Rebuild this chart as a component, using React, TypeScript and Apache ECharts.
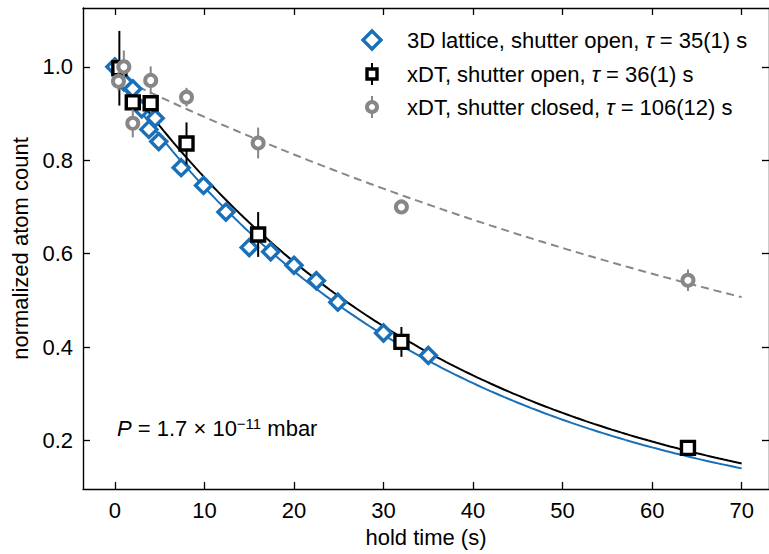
import React, { useEffect, useRef } from "react";
import * as echarts from "echarts";

// ---- data ----
const xTicks = [0, 10, 20, 30, 40, 50, 60, 70];
const yTicks = [0.2, 0.4, 0.6, 0.8, 1.0];

const latticeTime = [0, 1, 2, 3, 3.8, 4.5, 4.9, 7.4, 9.9, 12.4, 15, 17.4, 20, 22.5, 24.9, 30, 35];
const latticeCount = [1.0, 0.968, 0.953, 0.91, 0.866, 0.89, 0.84, 0.784, 0.746, 0.689, 0.613, 0.604, 0.575, 0.542, 0.496, 0.43, 0.382];

const xdtOpenTime = [0.5, 2, 4, 8, 16, 32, 64];
const xdtOpenCount = [0.997, 0.924, 0.922, 0.836, 0.641, 0.411, 0.184];
const xdtOpenErr = [0.08, 0.015, 0.015, 0.045, 0.048, 0.032, 0.01];

const xdtClosedTime = [0.4, 1, 2, 4, 8, 16, 32, 64];
const xdtClosedCount = [0.969, 1.0, 0.879, 0.971, 0.935, 0.837, 0.7, 0.543];
const xdtClosedErr = [0.02, 0.035, 0.03, 0.03, 0.02, 0.033, 0.012, 0.023];

// exponential fit parameters (amplitude, lifetime) for lattice, xDT open, xDT closed
const fitAmplitude = [0.98, 1.0, 0.981];
const fitTau = [36, 37, 106];
const fitEnd = 70;

const BLUE = "#1a70b8";
const GRAY = "#878787";
const FONT = "Liberation Sans";
const FS = 22;

function fitCurve(k: number): number[][] {
  const pts: number[][] = [];
  for (let t = 0; t <= fitEnd + 1e-9; t += 0.5) {
    pts.push([t, fitAmplitude[k] * Math.exp(-t / fitTau[k])]);
  }
  return pts;
}

function errorSeries(times: number[], counts: number[], errs: number[], color: string, z: number) {
  return {
    type: "custom",
    z,
    silent: true,
    data: times.map((t, i) => [t, counts[i] - errs[i], counts[i] + errs[i]]),
    encode: { x: 0, y: [1, 2] },
    renderItem: (_p: any, api: any) => {
      const lo = api.coord([api.value(0), api.value(1)]);
      const hi = api.coord([api.value(0), api.value(2)]);
      return {
        type: "line",
        shape: { x1: lo[0], y1: lo[1], x2: hi[0], y2: hi[1] },
        style: { stroke: color, lineWidth: 2 },
      };
    },
  };
}

export default function App() {
  const ref = useRef<HTMLDivElement>(null);
  useEffect(() => {
    if (!ref.current) return;
    const chart = echarts.init(ref.current, null, { renderer: "svg" });
    const axisCommon = {
      type: "value",
      splitLine: { show: false },
      axisLine: { show: true, onZero: false, lineStyle: { color: "#000", width: 1.4 } },
      axisTick: { show: true, inside: true, length: 7, lineStyle: { color: "#000", width: 1.3 } },
    };
    const textBase = { fontFamily: FONT, fontSize: FS, color: "#000" };
    const option: any = {
      animation: false,
      backgroundColor: "#fff",
      grid: { left: 83, right: -2, top: 8, bottom: 65 },
      xAxis: [
        {
          ...axisCommon,
          position: "bottom",
          min: -3.56,
          max: 73.05,
          axisTick: { ...axisCommon.axisTick, customValues: xTicks },
          axisLabel: { ...textBase, margin: 10, customValues: xTicks, formatter: (v: number) => String(v) },
          name: "hold time (s)",
          nameLocation: "middle",
          nameGap: 37,
          nameTextStyle: { ...textBase },
        },
        {
          ...axisCommon,
          position: "top",
          min: -3.56,
          max: 73.05,
          axisTick: { ...axisCommon.axisTick, customValues: xTicks },
          axisLabel: { show: false },
        },
      ],
      yAxis: [
        {
          ...axisCommon,
          position: "left",
          min: 0.096,
          max: 1.126,
          axisTick: { ...axisCommon.axisTick, customValues: yTicks },
          axisLabel: { ...textBase, margin: 10, customValues: yTicks, formatter: (v: number) => v.toFixed(1) },
          name: "normalized atom count",
          nameLocation: "middle",
          nameGap: 52,
          nameTextStyle: { ...textBase },
        },
        {
          ...axisCommon,
          position: "right",
          min: 0.096,
          max: 1.126,
          axisTick: { ...axisCommon.axisTick, customValues: yTicks },
          axisLabel: { show: false },
        },
      ],
      series: [
        {
          type: "line",
          z: 1,
          data: fitCurve(2),
          showSymbol: false,
          silent: true,
          lineStyle: { color: GRAY, width: 2, type: [8, 5] },
        },
        {
          type: "line",
          z: 1,
          data: fitCurve(0),
          showSymbol: false,
          silent: true,
          lineStyle: { color: BLUE, width: 2 },
        },
        {
          type: "line",
          z: 1,
          data: fitCurve(1),
          showSymbol: false,
          silent: true,
          lineStyle: { color: "#000", width: 2 },
        },
        {
          type: "scatter",
          z: 3,
          data: latticeTime.map((t, i) => [t, latticeCount[i]]),
          symbol: "diamond",
          symbolSize: 16,
          itemStyle: { color: "#fff", borderColor: BLUE, borderWidth: 3.4, opacity: 1 },
        },
        errorSeries(xdtOpenTime, xdtOpenCount, xdtOpenErr, "#000", 4),
        {
          type: "scatter",
          z: 5,
          data: xdtOpenTime.map((t, i) => [t, xdtOpenCount[i]]),
          symbol: "rect",
          symbolSize: 13,
          itemStyle: { color: "#fff", borderColor: "#000", borderWidth: 3.4, opacity: 1 },
        },
        errorSeries(xdtClosedTime, xdtClosedCount, xdtClosedErr, GRAY, 6),
        {
          type: "scatter",
          z: 7,
          data: xdtClosedTime.map((t, i) => [t, xdtClosedCount[i]]),
          symbol: "circle",
          symbolSize: 11,
          itemStyle: { color: "#fff", borderColor: GRAY, borderWidth: 4, opacity: 1 },
        },
      ],
      graphic: [
        // legend markers
        {
          type: "polygon",
          shape: { points: [[372, 31], [381, 40], [372, 49], [363, 40]] },
          style: { fill: "#fff", stroke: BLUE, lineWidth: 3.4 },
          z: 10,
        },
        { type: "line", shape: { x1: 372, y1: 63, x2: 372, y2: 85 }, style: { stroke: "#000", lineWidth: 2 }, z: 10 },
        { type: "rect", shape: { x: 367, y: 69, width: 10, height: 10 }, style: { fill: "#fff", stroke: "#000", lineWidth: 3.4 }, z: 11 },
        { type: "line", shape: { x1: 372, y1: 96, x2: 372, y2: 118 }, style: { stroke: GRAY, lineWidth: 2 }, z: 10 },
        { type: "circle", shape: { cx: 372, cy: 107, r: 5 }, style: { fill: "#fff", stroke: GRAY, lineWidth: 4 }, z: 11 },
        // legend texts
        ...[
          ["3D lattice, shutter open, ", "35(1)", 40],
          ["xDT, shutter open, ", "36(1)", 74],
          ["xDT, shutter closed, ", "106(12)", 107],
        ].map(([a, b, y]) => ({
          type: "text",
          x: 407,
          y: y as number,
          z: 12,
          style: {
            text: `{n|${a}}{i|τ}{n| = ${b} s}`,
            verticalAlign: "middle",
            align: "left",
            fontFamily: FONT,
            fontSize: FS,
            fill: "#000",
            rich: {
              n: { fontFamily: FONT, fontSize: FS, color: "#000" },
              i: { fontFamily: FONT, fontSize: FS, fontStyle: "italic", color: "#000" },
            },
          },
        })),
        {
          type: "text",
          x: 117,
          y: 428,
          z: 12,
          style: {
            text: "{i|P}{n| = 1.7 × 10}{s|−11}{n| mbar}",
            verticalAlign: "middle",
            align: "left",
            fontFamily: FONT,
            fontSize: FS,
            fill: "#000",
            rich: {
              n: { fontFamily: FONT, fontSize: FS, color: "#000", lineHeight: 25 },
              i: { fontFamily: FONT, fontSize: FS, fontStyle: "italic", color: "#000", lineHeight: 25 },
              s: { fontFamily: FONT, fontSize: 15, color: "#000", verticalAlign: "top", lineHeight: 16 },
            },
          },
        },
      ],
    };
    chart.setOption(option);
    return () => chart.dispose();
  }, []);
  return (
    <div
      ref={ref}
      style={{ position: "fixed", left: 0, top: 0, width: 769, height: 554, background: "#fff" }}
    />
  );
}
